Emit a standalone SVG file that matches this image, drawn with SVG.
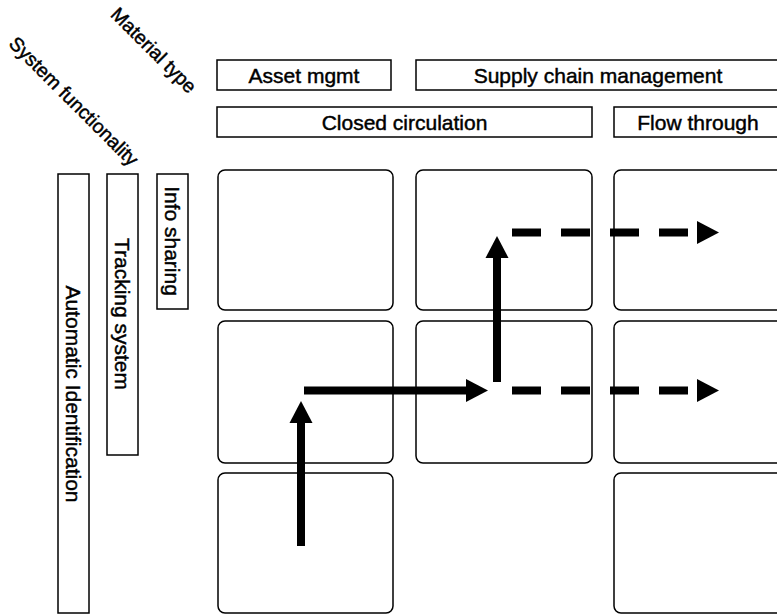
<svg xmlns="http://www.w3.org/2000/svg" width="777" height="615" viewBox="0 0 777 615">
  <style>
    .box { fill: #fff; stroke: #000; stroke-width: 1.5; }
    .cell { fill: #fff; stroke: #000; stroke-width: 1.5; }
    .lbl { font-family: "Liberation Sans", Arial, Helvetica, sans-serif; font-size: 21px; fill: #000; stroke: #000; stroke-width: 0.45; text-anchor: middle; }
    .axis { font-family: "Liberation Sans", Arial, Helvetica, sans-serif; font-size: 19.5px; fill: #000; stroke: #000; stroke-width: 0.45; text-anchor: middle; }
    .flow { fill: none; stroke: #000; stroke-width: 8; }
    .dash { stroke-dasharray: 29 20; }
  </style>
  <defs>
    <marker id="head" markerUnits="userSpaceOnUse" markerWidth="24" markerHeight="24" viewBox="0 -12 24 24" refX="0" refY="0" orient="auto" overflow="visible">
      <path d="M0,-11.5 L22,0 L0,11.5 Z" fill="#000"/>
    </marker>
  </defs>
  <rect width="777" height="615" fill="#fff"/>

  <!-- axis titles -->
  <g id="axis-material">
    <text class="axis" transform="translate(154,50) rotate(45)" y="7">Material type</text>
  </g>
  <g id="axis-system">
    <text class="axis" transform="translate(74,101) rotate(45)" y="7">System functionality</text>
  </g>

  <!-- column headers -->
  <g id="hdr-asset">
    <rect class="box" x="217" y="60" width="174" height="30"/>
    <text class="lbl" x="304" y="83">Asset mgmt</text>
  </g>
  <g id="hdr-supply">
    <rect class="box" x="416" y="60" width="370" height="30"/>
    <text class="lbl" x="598" y="83">Supply chain management</text>
  </g>
  <g id="hdr-closed">
    <rect class="box" x="217" y="107" width="375" height="30"/>
    <text class="lbl" x="404.5" y="130">Closed circulation</text>
  </g>
  <g id="hdr-flow">
    <rect class="box" x="614" y="107" width="170" height="30"/>
    <text class="lbl" x="698" y="130">Flow through</text>
  </g>

  <!-- row headers -->
  <g id="row-autoid">
    <rect class="box" x="58" y="174" width="31" height="439"/>
    <text class="lbl" transform="translate(66,394) rotate(90)">Automatic Identification</text>
  </g>
  <g id="row-tracking">
    <rect class="box" x="107" y="174" width="31" height="281"/>
    <text class="lbl" transform="translate(115,314) rotate(90)">Tracking system</text>
  </g>
  <g id="row-info">
    <rect class="box" x="157" y="174" width="31" height="135"/>
    <text class="lbl" transform="translate(165,241) rotate(90)">Info sharing</text>
  </g>

  <!-- matrix cells -->
  <g id="cell-r1c1"><rect class="cell" x="218" y="170" width="175" height="140" rx="7"/></g>
  <g id="cell-r1c2"><rect class="cell" x="416" y="170" width="176" height="140" rx="7"/></g>
  <g id="cell-r1c3"><rect class="cell" x="614" y="170" width="180" height="140" rx="7"/></g>
  <g id="cell-r2c1"><rect class="cell" x="218" y="321" width="175" height="142" rx="7"/></g>
  <g id="cell-r2c2"><rect class="cell" x="416" y="321" width="176" height="142" rx="7"/></g>
  <g id="cell-r2c3"><rect class="cell" x="614" y="321" width="180" height="142" rx="7"/></g>
  <g id="cell-r3c1"><rect class="cell" x="218" y="473" width="175" height="140" rx="7"/></g>
  <g id="cell-r3c3"><rect class="cell" x="614" y="473" width="180" height="140" rx="7"/></g>

  <!-- development paths -->
  <g id="connectors">
    <path class="flow" d="M301,546 V423" marker-end="url(#head)"/>
    <path class="flow" d="M304,390.5 H466" marker-end="url(#head)"/>
    <path class="flow" d="M497,382 V258" marker-end="url(#head)"/>
    <path class="flow dash" d="M512,232.5 H697" marker-end="url(#head)"/>
    <path class="flow dash" d="M512,390.5 H697" marker-end="url(#head)"/>
  </g>
</svg>
